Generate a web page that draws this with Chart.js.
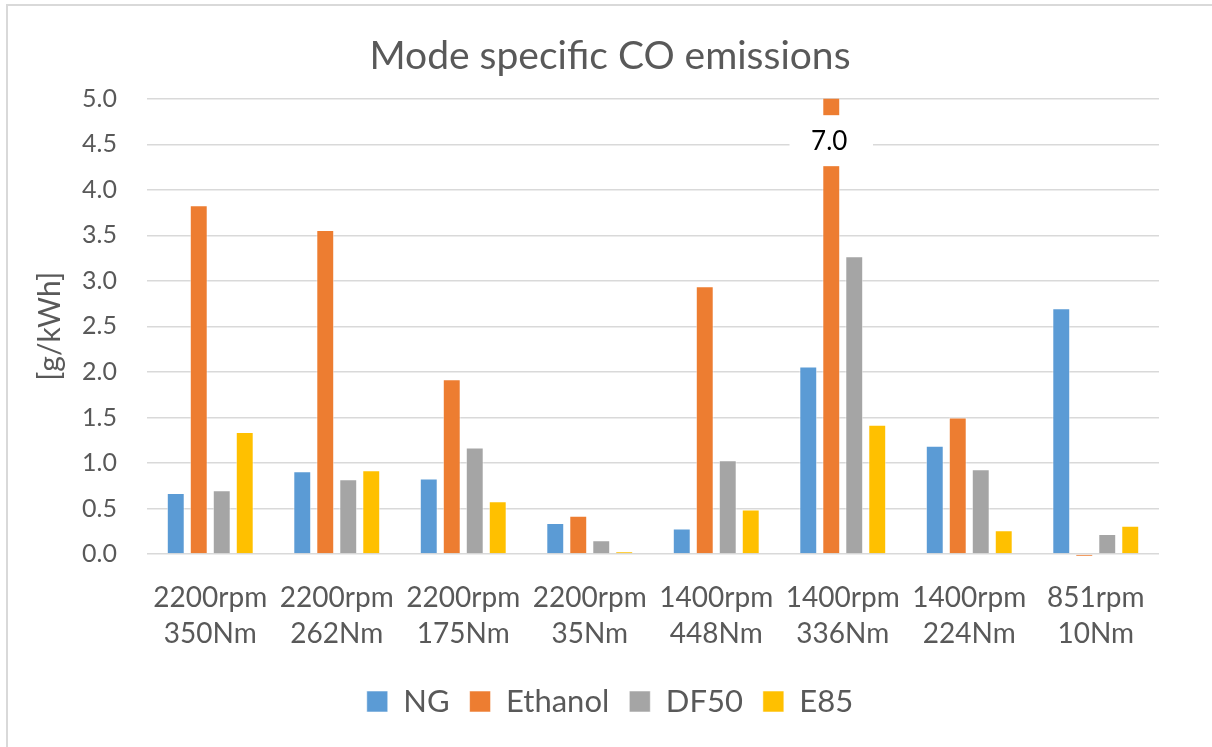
<!DOCTYPE html>
<html>
<head>
<meta charset="utf-8">
<title>Mode specific CO emissions</title>
<script src="https://cdn.jsdelivr.net/npm/chart.js@4.4.1/dist/chart.umd.min.js"></script>
<style>
  html, body { margin: 0; padding: 0; background: #ffffff; }
  #wrap { position: relative; width: 1212px; height: 747px; }
</style>
</head>
<body>
<div id="wrap"><canvas id="chart" width="1212" height="747"></canvas></div>
<script>
// Operating modes (speed / torque)
const categories = [
  ['2200rpm', '350Nm'],
  ['2200rpm', '262Nm'],
  ['2200rpm', '175Nm'],
  ['2200rpm', '35Nm'],
  ['1400rpm', '448Nm'],
  ['1400rpm', '336Nm'],
  ['1400rpm', '224Nm'],
  ['851rpm', '10Nm']
];

// Specific CO emissions per fuel, g/kWh
const ngValues      = [0.67, 0.91, 0.83, 0.34, 0.28, 2.06, 1.19, 2.70];
const ethanolValues = [3.83, 3.56, 1.92, 0.42, 2.94, 7.0, 1.50, -0.03];
const df50Values    = [0.70, 0.82, 1.17, 0.15, 1.03, 3.27, 0.93, 0.22];
const e85Values     = [1.34, 0.92, 0.58, 0.03, 0.49, 1.42, 0.26, 0.31];

const seriesNames  = ['NG', 'Ethanol', 'DF50', 'E85'];
const seriesColors = ['#5B9BD5', '#ED7D31', '#A5A5A5', '#FFC000'];

// Value axis
const yMin = 0;
const yMax = 5;
const yStep = 0.5;

// Axis break drawn on the off-scale Ethanol bar
const breakSeries = 1;
const breakIndex = 5;
const breakLow = 4.26;
const breakHigh = 4.82;

const TEXT = '#595959';
const GRID = '#D9D9D9';
const FONT = 'Lato, "Open Sans", "DejaVu Sans", sans-serif';

const seriesData = [ngValues, ethanolValues, df50Values, e85Values];

// Light frame along the top and left edges of the canvas
const framePlugin = {
  id: 'frame',
  beforeDraw(chart) {
    const ctx = chart.ctx;
    ctx.save();
    ctx.fillStyle = '#ffffff';
    ctx.fillRect(0, 0, chart.width, chart.height);
    ctx.fillStyle = GRID;
    ctx.fillRect(6, 4, chart.width - 6, 2);
    ctx.fillRect(6, 4, 2, chart.height - 4);
    ctx.restore();
  }
};

// White gap with the true value where a bar runs past the axis maximum
const axisBreakPlugin = {
  id: 'axisBreak',
  afterDatasetsDraw(chart) {
    const meta = chart.getDatasetMeta(breakSeries);
    const bar = meta.data[breakIndex];
    if (!bar) return;
    const y = chart.scales.y;
    const x = chart.scales.x;
    const catW = x.width / categories.length;
    const half = catW * 0.33;
    const top = y.getPixelForValue(breakHigh);
    const bottom = y.getPixelForValue(breakLow);
    const ctx = chart.ctx;
    ctx.save();
    ctx.fillStyle = '#ffffff';
    ctx.fillRect(bar.x - half, top, half * 2, bottom - top);
    ctx.fillStyle = '#000000';
    ctx.font = '26px ' + FONT;
    ctx.textAlign = 'center';
    ctx.textBaseline = 'middle';
    const v = seriesData[breakSeries][breakIndex];
    ctx.fillText(v.toFixed(1), bar.x - 2, (top + bottom) / 2 + 1);
    ctx.restore();
  }
};

const datasets = seriesNames.map((name, i) => ({
  label: name,
  data: seriesData[i],
  backgroundColor: seriesColors[i],
  borderColor: 'rgba(255,255,255,0.55)',
  borderWidth: 1,
  categoryPercentage: 0.727,
  barPercentage: 0.78,
  clip: { left: 0, right: 0, top: 0, bottom: 6 }
}));

new Chart(document.getElementById('chart'), {
  type: 'bar',
  data: { labels: categories, datasets },
  plugins: [framePlugin, axisBreakPlugin],
  options: {
    responsive: false,
    animation: false,
    devicePixelRatio: 1,
    layout: { padding: { left: 8, right: 0, top: 0, bottom: 20 } },
    plugins: {
      title: {
        display: true,
        text: 'Mode specific CO emissions',
        color: TEXT,
        font: { family: FONT, size: 39, weight: 'normal' },
        padding: { top: 33, bottom: 19 }
      },
      legend: {
        display: true,
        position: 'bottom',
        labels: {
          color: TEXT,
          font: { family: FONT, size: 31 },
          boxWidth: 21,
          boxHeight: 21,
          padding: 20
        }
      },
      tooltip: { enabled: false }
    },
    scales: {
      x: {
        grid: { display: false, drawTicks: false },
        border: { display: false },
        ticks: {
          color: TEXT,
          font: { family: FONT, size: 28, lineHeight: 1.29 },
          padding: 26,
          maxRotation: 0,
          autoSkip: false
        },
        afterFit(scale) { scale.height = 112; }
      },
      y: {
        min: yMin,
        max: yMax,
        grid: { color: GRID, lineWidth: 1.5, drawTicks: false },
        border: { display: false },
        ticks: {
          stepSize: yStep,
          color: TEXT,
          font: { family: FONT, size: 25 },
          padding: 30,
          callback: (v) => Number(v).toFixed(1)
        },
        title: {
          display: true,
          text: '[g/kWh]',
          color: TEXT,
          font: { family: FONT, size: 30 },
          padding: { top: 24, bottom: 0 }
        },
        afterFit(scale) { scale.width = 139; }
      },
      // empty margin on the right of the plot
      yRight: {
        position: 'right',
        min: yMin,
        max: yMax,
        grid: { display: false, drawTicks: false },
        border: { display: false },
        ticks: { display: false },
        afterFit(scale) { scale.width = 53; }
      }
    }
  }
});
</script>
</body>
</html>
